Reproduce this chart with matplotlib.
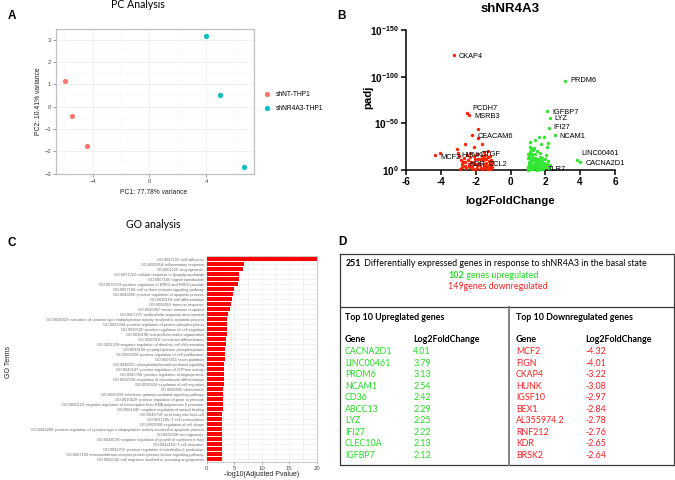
import matplotlib
matplotlib.use('Agg')
import matplotlib.pyplot as plt
import numpy as np

plt.rcParams['mathtext.fontset'] = 'custom'
plt.rcParams['mathtext.rm'] = 'Liberation Sans'
plt.rcParams['mathtext.bf'] = 'Liberation Sans:bold'

W, H = 675, 480

# ---------------- data ----------------
pca_groups = ['shNT-THP1', 'shNR4A3-THP1']
pca_colors = ['#F8766D', '#00BFC4']
pca_pc1 = [[-5.93, -5.44, -4.42], [4.00, 4.99, 6.65]]
pca_pc2 = [[1.17, -0.42, -1.77], [3.17, 0.51, -2.72]]

down_lfc = [-3.22, -2.48, -2.36, -1.85, -2.20, -1.84, -1.65, -2.60, -3.09, -2.07, -1.30,
            -4.05, -4.32, -3.00, -2.30, -1.55,
            -2.97, -2.85, -2.78, -2.76, -2.65, -2.64, -2.60, -2.55, -2.50, -2.45, -2.40,
            -2.35, -2.30, -2.25, -2.20, -2.15, -2.10, -2.05, -2.00, -1.95, -1.90, -1.85,
            -1.80, -1.75, -1.70, -1.65, -1.60, -1.55, -1.50, -1.45, -1.42, -1.38, -1.35,
            -1.30, -1.25, -1.22, -1.18, -1.15, -1.12, -1.10, -1.06, -1.04, -2.90, -1.60,
            -2.00, -1.30, -2.70, -2.40, -1.90, -1.40, -1.20, -2.10, -1.70, -1.50]
down_mlogp = [123.0, 61.4, 59.3, 44.0, 37.8, 34.6, 27.9, 27.9, 22.2, 24.3, 20.7,
              18.5, 15.7, 17.9, 18.5, 19.0,
              14.5, 10.2, 6.0, 3.1, 12.8, 8.4, 4.5, 1.8, 16.2, 10.9, 6.8,
              2.9, 13.6, 8.9, 4.2, 1.5, 15.4, 11.3, 6.3, 2.4, 17.1, 12.2,
              8.0, 4.9, 1.9, 14.8, 10.4, 6.6, 3.3, 16.5, 12.0, 7.7, 2.2,
              13.9, 9.5, 5.4, 1.6, 15.3, 11.0, 6.1, 2.8, 8.3, 1.3, 0.8,
              0.9, 0.7, 9.0, 4.0, 5.5, 4.6, 3.5, 7.2, 11.6, 13.0]

up_lfc = [3.13, 2.12, 2.25, 2.22, 2.54, 1.64, 1.95, 1.41, 2.18, 1.13, 1.76, 2.09, 1.13,
          3.79, 4.01,
          1.00, 1.02, 1.04, 1.05, 1.06, 1.08, 1.10, 1.12, 1.15, 1.18, 1.20, 1.22, 1.25,
          1.27, 1.30, 1.33, 1.35, 1.38, 1.40, 1.43, 1.45, 1.48, 1.50, 1.53, 1.55, 1.58,
          1.60, 1.62, 1.65, 1.68, 1.70, 1.73, 1.76, 1.80, 1.83, 1.86, 1.90, 1.94, 1.98,
          2.02, 2.06, 2.10, 2.15, 2.20, 2.29, 1.02, 1.10, 1.20, 1.50, 1.70, 1.15, 1.35,
          1.00, 1.02, 1.08, 1.25, 1.45, 1.12, 1.30]
up_mlogp = [95.7, 62.9, 56.0, 45.5, 37.2, 35.0, 35.0, 32.0, 29.3, 30.4, 27.9, 25.0, 25.0,
            10.7, 8.6,
            1.0, 3.5, 6.2, 9.0, 12.5, 15.8, 19.5, 2.0, 4.8, 7.5, 11.0, 14.2, 17.6,
            21.0, 1.2, 3.9, 6.8, 9.9, 13.3, 16.7, 2.6, 5.5, 8.4, 11.8, 20.2, 1.5,
            4.2, 7.1, 10.3, 14.0, 18.0, 2.9, 5.9, 9.2, 12.6, 1.0, 4.6, 7.8, 11.5,
            16.0, 3.2, 6.5, 10.0, 2.0, 5.0, 0.5, 0.8, 0.6, 0.4, 0.7, 22.5, 24.0,
            17.0, 13.0, 5.0, 3.0, 9.5, 8.0, 11.0]

volc_labels = ['CKAP4', 'PRDM6', 'PCDH7', 'MSRB3', 'IGFBP7', 'LYZ', 'IFI27', 'NCAM1',
               'CEACAM6', 'LINC00461', 'CACNA2D1', 'MCF2', 'HUNK', 'CTGF', 'KDR', 'CCL2', 'TLR7']
volc_label_x = [-2.95, 3.41, -2.17, -2.05, 2.39, 2.51, 2.49, 2.79,
                -1.90, 4.08, 4.31, -4.05, -2.80, -1.70, -2.38, -1.27, 2.14]
volc_label_y = [122.0, 95.7, 65.4, 57.1, 61.8, 55.4, 45.4, 35.7,
                36.4, 17.9, 7.1, 13.2, 15.7, 16.8, 6.4, 5.4, 1.0]

go_terms = [
    'GO:0007155~cell adhesion',
    'GO:0006954~inflammatory response',
    'GO:0001525~angiogenesis',
    'GO:0071222~cellular response to lipopolysaccharide',
    'GO:0007165~signal transduction',
    'GO:0070374~positive regulation of ERK1 and ERK2 cascade',
    'GO:0007166~cell surface receptor signaling pathway',
    'GO:0043065~positive regulation of apoptotic process',
    'GO:0030154~cell differentiation',
    'GO:0006955~immune response',
    'GO:0045087~innate immune response',
    'GO:0007275~multicellular organism development',
    'GO:0006919~activation of cysteine-type endopeptidase activity involved in apoptotic process',
    'GO:0001934~positive regulation of protein phosphorylation',
    'GO:0030335~positive regulation of cell migration',
    'GO:0030198~extracellular matrix organization',
    'GO:0030316~osteoclast differentiation',
    'GO:2001199~negative regulation of dendritic cell differentiation',
    'GO:0018108~peptidyl-tyrosine phosphorylation',
    'GO:0008284~positive regulation of cell proliferation',
    'GO:0007411~axon guidance',
    'GO:0048015~phosphatidylinositol-mediated signaling',
    'GO:0043547~positive regulation of GTPase activity',
    'GO:0045766~positive regulation of angiogenesis',
    'GO:0032330~regulation of chondrocyte differentiation',
    'GO:0030334~regulation of cell migration',
    'GO:0006935~chemotaxis',
    'GO:0060333~interferon-gamma-mediated signaling pathway',
    'GO:0010628~positive regulation of gene expression',
    'GO:0000122~negative regulation of transcription from RNA polymerase II promoter',
    'GO:0061045~negative regulation of wound healing',
    'GO:0046718~viral entry into host cell',
    'GO:0031295~T cell costimulation',
    'GO:0008360~regulation of cell shape',
    'GO:0043280~positive regulation of cysteine-type endopeptidase activity involved in apoptotic process',
    'GO:0022008~neurogenesis',
    'GO:0044130~negative regulation of growth of symbiont in host',
    'GO:0042110~T cell activation',
    'GO:0032755~positive regulation of interleukin-6 production',
    'GO:0007169~transmembrane receptor protein tyrosine kinase signaling pathway',
    'GO:0002042~cell migration involved in sprouting angiogenesis',
]
go_values = [20.0, 6.85, 6.67, 5.94, 5.82, 5.64, 4.97, 4.73, 4.60, 4.48, 4.30,
             3.82, 3.76, 3.76, 3.70, 3.64, 3.58, 3.52, 3.39, 3.33, 3.27, 3.21,
             3.15, 3.15, 3.15, 3.09, 3.03, 3.00, 3.00, 2.97, 2.90, 2.85, 2.85,
             2.80, 2.80, 2.75, 2.73, 2.73, 2.72, 2.70, 2.70]

n_deg, n_up, n_down = 251, 102, 149
up_genes = ['CACNA2D1', 'LINC00461', 'PRDM6', 'NCAM1', 'CD36', 'ABCC13', 'LYZ', 'IFI27', 'CLEC10A', 'IGFBP7']
up_fc = [4.01, 3.79, 3.13, 2.54, 2.42, 2.29, 2.25, 2.22, 2.13, 2.12]
down_genes = ['MCF2', 'FIGN', 'CKAP4', 'HUNK', 'IGSF10', 'BEX1', 'AL355974.2', 'RNF212', 'KDR', 'BRSK2']
down_fc = [-4.32, -4.01, -3.22, -3.08, -2.97, -2.84, -2.78, -2.76, -2.65, -2.64]

# ---------------- helpers ----------------
def fx(px):
    return px / W

def fy(py):
    return 1 - py / H

def axrect(x0, y0, x1, y1):
    return [fx(x0), fy(y1), (x1 - x0) / W, (y1 - y0) / H]

fig = plt.figure(figsize=(6.75, 4.8), dpi=100)
fig.patch.set_facecolor('white')

SANS = 'Liberation Sans'
CAL = 'Lato'

# panel letters
for lab, (px, py) in zip('ABCD', [(12, 16), (341, 16), (12, 243), (342, 242)]):
    fig.text(fx(px), fy(py), lab, fontsize=8.5, fontweight='bold', family=SANS, ha='center', va='center')

# ---------------- Panel A: PCA ----------------
axA = fig.add_axes(axrect(56, 29, 254, 174))
for g, c, xs, ys in zip(pca_groups, pca_colors, pca_pc1, pca_pc2):
    axA.scatter(xs, ys, s=14, color=c, label=g, zorder=3, linewidths=0)
axA.set_xlim(-6.58, 7.38)
axA.set_ylim(-3.02, 3.48)
axA.set_xticks([-4, 0, 4])
axA.set_yticks([-3, -2, -1, 0, 1, 2, 3])
axA.set_xticks([-6, -2, 2, 6], minor=True)
axA.set_yticks([-2.5, -1.5, -0.5, 0.5, 1.5, 2.5], minor=True)
axA.grid(True, which='major', color='#EBEBEB', lw=0.5)
axA.grid(True, which='minor', color='#F4F4F4', lw=0.3)
axA.set_axisbelow(True)
axA.tick_params(which='major', labelsize=4.2, colors='#4D4D4D', length=2, width=0.4, pad=1.5)
axA.tick_params(which='minor', length=0)
for t in axA.get_xticklabels() + axA.get_yticklabels():
    t.set_family(SANS)
for s in axA.spines.values():
    s.set_color('#C0C0C0')
    s.set_linewidth(0.9)
fig.text(fx(154), fy(193), 'PC1: 77.78% variance', fontsize=4.9, family=SANS, color='#222222', ha='center', va='center')
fig.text(fx(39), fy(101.5), 'PC2: 10.41% variance', fontsize=4.9, family=SANS, color='#222222',
         ha='center', va='center', rotation=90)
fig.text(fx(138), fy(5), 'PC Analysis', fontsize=7.6, family=CAL, ha='center', va='center')
axA.legend(loc='center left', bbox_to_anchor=(fx(260), fy(101.5)), bbox_transform=fig.transFigure,
           frameon=False, prop={'family': SANS, 'size': 4.8}, handletextpad=0.3, labelspacing=1.1,
           borderaxespad=0, borderpad=0, markerscale=1.0)

# ---------------- Panel B: volcano ----------------
RED = '#FF2200'
GRN = '#2EE62E'
axB = fig.add_axes(axrect(406, 30, 615, 170))
axB.scatter(down_lfc, down_mlogp, s=6, color=RED, linewidths=0, zorder=3, clip_on=False)
axB.scatter(up_lfc, up_mlogp, s=6, color=GRN, linewidths=0, zorder=3, clip_on=False)
for lab, lx, ly in zip(volc_labels, volc_label_x, volc_label_y):
    axB.text(lx, ly, lab, fontsize=5.3, family=SANS, ha='left', va='center', zorder=4)
axB.set_xlim(-6, 6)
axB.set_ylim(0, 150)
axB.set_xticks([-6, -4, -2, 0, 2, 4, 6])
axB.set_xticklabels(['-6', '-4', '-2', '0', '2', '4', '6'])
axB.set_yticks([0, 50, 100, 150])
axB.set_yticklabels([r'$\mathbf{10^{0}}$', r'$\mathbf{10^{-50}}$', r'$\mathbf{10^{-100}}$', r'$\mathbf{10^{-150}}$'])
axB.spines['top'].set_visible(False)
axB.spines['right'].set_visible(False)
for s in ['left', 'bottom']:
    axB.spines[s].set_linewidth(1.1)
axB.tick_params(labelsize=7.2, length=3.5, width=1.1, pad=1.5)
for t in axB.get_xticklabels():
    t.set_fontweight('bold')
    t.set_family(SANS)
fig.text(fx(510), fy(9), 'shNR4A3', fontsize=9.5, fontweight='bold', family=SANS, ha='center', va='center')
fig.text(fx(510), fy(201.5), 'log2FoldChange', fontsize=8.2, fontweight='bold', family=SANS, ha='center', va='center')
fig.text(fx(368), fy(97), 'padj', fontsize=8.2, fontweight='bold', family=SANS, ha='center', va='center', rotation=90)

# ---------------- Panel C: GO ----------------
axC = fig.add_axes(axrect(206.7, 256, 316.7, 462.3))
n = len(go_terms)
ypos = np.arange(n)[::-1]
axC.barh(ypos, go_values, height=0.8, color='#FF0000', zorder=3, linewidth=0)
axC.set_xlim(0, 20)
axC.set_ylim(-0.6, n - 0.4)
axC.set_yticks(ypos)
axC.set_yticklabels(go_terms, fontsize=2.8, family=SANS, color='#6A6A6A')
axC.set_xticks([0, 5, 10, 15, 20])
axC.set_xticks([2.5, 7.5, 12.5, 17.5], minor=True)
axC.grid(True, which='both', axis='x', color='#EBEBEB', lw=0.5)
axC.grid(True, which='major', axis='y', color='#EBEBEB', lw=0.4)
axC.set_axisbelow(True)
axC.tick_params(axis='x', labelsize=4.3, colors='#4D4D4D', length=1.5, width=0.4, pad=1)
axC.tick_params(axis='x', which='minor', length=0)
axC.tick_params(axis='y', length=1, width=0.3, pad=1, colors='#6A6A6A')
for t in axC.get_xticklabels():
    t.set_family(SANS)
for s in axC.spines.values():
    s.set_color('#C0C0C0')
    s.set_linewidth(0.6)
fig.text(fx(261.7), fy(475), '-log10(Adjusted Pvalue)', fontsize=5.0, family=SANS, color='#222222', ha='center', va='center')
fig.text(fx(8), fy(362), 'GO Terms', fontsize=5.0, family=SANS, color='#222222', ha='center', va='center', rotation=90)
fig.text(fx(153), fy(225), 'GO analysis', fontsize=7.6, family=CAL, ha='center', va='center')

# ---------------- Panel D: summary table ----------------
axD = fig.add_axes([0, 0, 1, 1])
axD.set_xlim(0, W)
axD.set_ylim(H, 0)
axD.axis('off')
BOX = '#3A3A3A'
axD.plot([339.5, 674, 674, 339.5, 339.5], [254, 254, 465, 465, 254], color=BOX, lw=0.9)
axD.plot([339.5, 674], [306.7, 306.7], color=BOX, lw=0.9)
axD.plot([509, 509], [306.7, 465], color='#7A7A7A', lw=1.3)

TG = '#22DD22'
TR = '#FF2020'
FS = 6.4
renderer = fig.canvas.get_renderer()

def two_part(x, y, bold_part, rest, color):
    t1 = axD.text(x, y, bold_part, fontsize=FS, family=CAL, fontweight='bold', color=color, ha='left', va='center')
    bb = t1.get_window_extent(renderer=renderer)
    x2 = x + bb.width
    axD.text(x2, y, rest, fontsize=FS, family=CAL, color=color, ha='left', va='center')

two_part(346, 263.7, str(n_deg), ' Differentially expressed genes in response to shNR4A3 in the basal state', 'black')
two_part(448.3, 275.2, str(n_up), ' genes upregulated', TG)
axD.text(448.3, 286.7, f'{n_down}genes downregulated', fontsize=FS, family=CAL, color=TR, ha='left', va='center')

axD.text(345, 317.3, 'Top 10 Upreglated genes', fontsize=FS, family=CAL, fontweight='bold', ha='left', va='center')
axD.text(516, 317.3, 'Top 10 Downregulated genes', fontsize=FS, family=CAL, fontweight='bold', ha='left', va='center')
for gx, fcx in [(345, 413.3), (516, 585)]:
    axD.text(gx, 340, 'Gene', fontsize=FS, family=CAL, fontweight='bold', ha='left', va='center')
    axD.text(fcx, 340, 'Log2FoldChange', fontsize=FS, family=CAL, fontweight='bold', ha='left', va='center')
for i in range(len(up_genes)):
    ry = 351.7 + i * 11.48
    axD.text(345, ry, up_genes[i], fontsize=FS, family=CAL, color=TG, ha='left', va='center')
    axD.text(413.3, ry, f'{up_fc[i]:.2f}', fontsize=FS, family=CAL, color=TG, ha='left', va='center')
    axD.text(516, ry, down_genes[i], fontsize=FS, family=CAL, color=TR, ha='left', va='center')
    axD.text(585, ry, f'{down_fc[i]:.2f}', fontsize=FS, family=CAL, color=TR, ha='left', va='center')

fig.savefig('out.png', dpi=100, facecolor='white')
